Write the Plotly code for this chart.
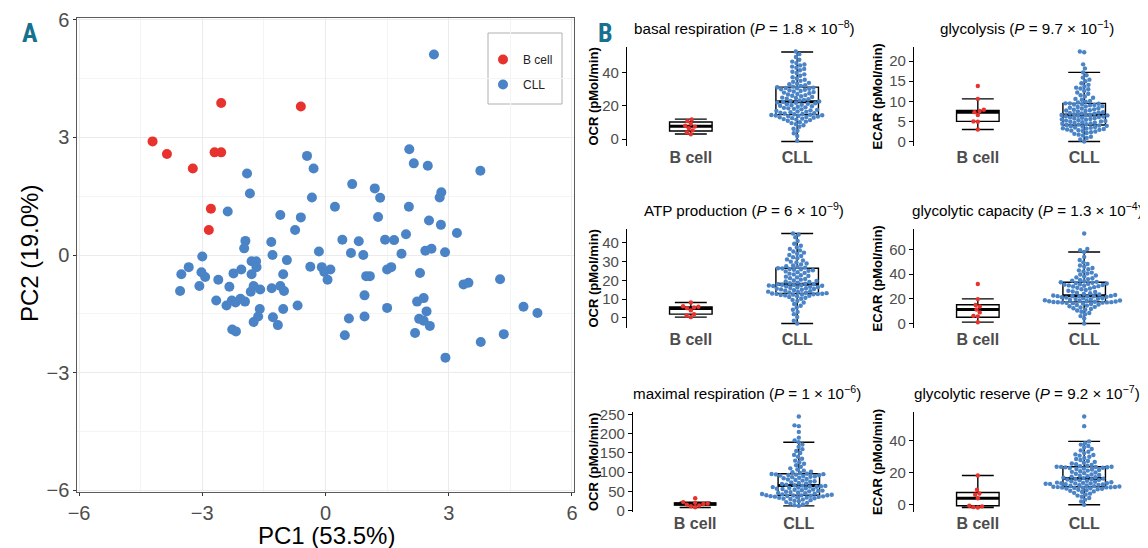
import numpy as np
import plotly.graph_objects as go

# page body has an 8px default margin: draw on a 1140x540 canvas and map target pixels
OFF = 8
W, H = 1148 - OFF, 548 - OFF

# ---------------- Panel A data (PCA) ----------------
bcell_pc1 = [-4.21, -3.86, -3.23, -2.70, -2.54, -2.54, -2.79, -2.84, -0.60]
bcell_pc2 = [2.90, 2.58, 2.21, 2.62, 2.62, 3.88, 1.18, 0.64, 3.79]

cll_pc1 = [2.64, 2.04, 2.15, 2.49, 3.77, -0.45, -0.29, -1.91, -1.84, 0.65, 1.20, 1.33, 2.82, 2.78,
           -0.33, 0.23, 2.03, -2.38, -1.10, -0.60, 1.28, 2.52, 2.81, -0.74, 3.20, 1.96, -1.95, -1.98,
           -1.32, 0.41, 0.81, 1.45, 1.67, -0.16, 0.62, 0.92, 1.85, 2.43, 2.58, 2.91, -1.29, -3.00,
           -3.33, -3.51, -3.54, -3.02, -2.93, -3.07, -2.61, -2.34, -2.24, -2.05, -1.80, -1.69, -1.68,
           -1.80, -0.94, -1.03, -0.37, -0.09, -0.03, 0.12, 0.05, 0.99, 1.08, 1.50, 1.60, 2.30, -1.75,
           -1.59, -1.82, -1.31, -1.10, -1.01, -2.66, -2.41, -2.28, -2.19, -2.07, -1.96, -1.60, -1.64,
           -1.75, -1.28, -1.16, -1.03, -0.68, -2.27, -2.18, 0.47, 0.57, 0.95, 0.95, 1.50, 2.23, 2.39,
           2.46, 2.28, 2.39, 2.54, 2.18, 2.92, 3.78, 4.34, 3.36, 3.48, 4.25, 4.82, 5.16]
cll_pc2 = [5.12, 2.70, 2.34, 2.28, 2.15, 2.53, 2.21, 2.08, 1.57, 1.81, 1.70, 1.46, 1.60, 1.47,
           1.47, 1.23, 1.23, 1.11, 1.02, 0.96, 0.97, 0.88, 0.77, 0.64, 0.56, 0.53, 0.36, 0.17,
           0.33, 0.39, 0.35, 0.39, 0.38, 0.09, 0.05, 0.00, 0.03, 0.11, 0.16, 0.07, 0.00, -0.04,
           -0.31, -0.49, -0.92, -0.44, -0.56, -0.79, -0.63, -0.81, -0.47, -0.37, -0.16, -0.16, -0.31,
           -0.49, -0.13, -0.49, -0.30, -0.31, -0.43, -0.37, -0.63, -0.54, -0.54, -0.37, -0.31, -0.46, -0.79,
           -0.88, -0.94, -0.85, -0.79, -0.92, -1.16, -1.29, -1.16, -1.21, -1.12, -1.19, -1.38, -1.57,
           -1.71, -1.59, -1.79, -1.38, -1.29, -1.90, -1.95, -2.05, -1.62, -1.57, -1.03, -1.35, -1.19, -1.10,
           -1.44, -1.63, -1.68, -1.81, -1.99, -2.62, -2.22, -2.02, -0.75, -0.71, -0.62, -1.32, -1.48]

# ---------------- Panel B data ----------------
groups = ["B cell", "CLL"]

basal_b = [2.8, 4.0, 5.2, 6.5, 7.5, 8.0, 9.2, 10.8, 11.8]
basal_cll = [-1.0, 1.8, 3.5, 5.0, 6.2, 7.4, 8.3, 9.0, 9.6, 10.1, 10.5, 11.0, 11.4, 11.7, 12.0, 12.3, 12.6,
             12.9, 13.1, 13.3, 13.6, 13.8, 14.0, 14.2, 14.3, 14.5, 14.6,
             14.9, 15.1, 15.4, 15.6, 15.9, 16.2, 16.4, 16.7, 17.0, 17.3, 17.6, 17.9, 18.2, 18.5, 18.8,
             19.1, 19.5, 19.8, 20.1, 20.4, 20.7, 21.0, 21.3, 21.6, 21.9, 22.1, 22.4,
             22.7, 23.0, 23.3, 23.6, 24.0, 24.3, 24.7, 25.0, 25.4, 25.8, 26.1, 26.5, 26.9, 27.2, 27.6,
             28.0, 28.3, 28.7, 29.0, 29.4, 29.7, 30.0, 30.3, 30.6, 30.8, 31.0, 31.2,
             31.6, 32.0, 32.5, 33.0, 33.4, 33.9, 34.5, 35.1, 35.8, 36.5, 37.3, 38.2, 39.0, 39.8, 40.6,
             41.5, 42.3, 43.0, 43.7, 44.4, 45.0, 45.8, 46.7, 47.8, 49.5, 51.2, 52.8]
basal_box_b = [3.0, 4.8, 7.7, 10.3, 12.0]
basal_box_cll = [-1.5, 14.7, 22.5, 31.3, 52.5]

glyc_b = [3.0, 4.9, 5.0, 6.6, 7.3, 7.6, 7.9, 10.6, 13.8]
glyc_cll = [0.0, 0.5, 0.9, 1.2, 1.5, 1.7, 1.9, 2.1, 2.3, 2.5, 2.6, 2.7, 2.8, 2.9, 3.0, 3.1, 3.2, 3.3,
            3.4, 3.5, 3.6, 3.7, 3.8, 3.9, 4.0, 4.1,
            4.2, 4.3, 4.4, 4.5, 4.6, 4.7, 4.8, 4.9, 5.0, 5.1, 5.2, 5.3, 5.4, 5.5, 5.6, 5.7, 5.8, 5.9,
            6.0, 6.1, 6.2, 6.3, 6.4, 6.5, 6.5, 6.6,
            6.7, 6.8, 6.9, 7.0, 7.1, 7.2, 7.3, 7.5, 7.6, 7.7, 7.8, 7.9, 8.0, 8.2, 8.3, 8.4, 8.6, 8.7,
            8.8, 9.0, 9.1, 9.2, 9.3, 9.4, 9.5, 9.5,
            9.7, 9.9, 10.1, 10.4, 10.6, 10.9, 11.2, 11.5, 11.9, 12.2, 12.6, 13.0, 13.2, 13.4, 13.7,
            14.1, 14.5, 15.0, 15.4, 15.9, 16.5, 17.2, 18.2, 19.2, 22.2, 22.4]
glyc_box_b = [3.0, 5.0, 7.3, 7.7, 10.6]
glyc_box_cll = [0.0, 4.1, 6.6, 9.5, 17.2]

atp_b = [0.4, 1.2, 2.0, 4.0, 5.2, 5.6, 5.9, 6.2, 8.2]
atp_cll = [-3.0, -1.5, 0.5, 2.0, 3.2, 4.3, 5.5, 6.5, 7.4, 8.2, 9.0, 9.6, 10.2, 10.7, 11.1, 11.5, 11.8,
           12.0, 12.2, 12.4, 12.5, 12.6, 12.7, 12.8, 12.9, 13.0,
           13.2, 13.4, 13.6, 13.8, 14.0, 14.2, 14.5, 14.7, 15.0, 15.2, 15.4, 15.6, 15.8, 16.0, 16.2,
           16.4, 16.6, 16.8, 17.0, 17.1, 17.3, 17.4, 17.6, 17.7, 17.9, 18.0,
           18.2, 18.5, 18.8, 19.1, 19.4, 19.7, 20.0, 20.4, 20.8, 21.2, 21.6, 22.0, 22.4, 22.8, 23.2,
           23.6, 24.0, 24.4, 24.8, 25.1, 25.4, 25.7, 25.9, 26.1, 26.3, 26.5,
           26.8, 27.2, 27.6, 28.0, 28.5, 29.0, 29.5, 30.0, 30.6, 31.2, 31.8, 32.4, 33.0, 33.6, 34.2,
           34.8, 35.4, 36.0, 36.8, 37.6, 38.5, 39.5, 41.0, 43.0, 44.5, 45.0]
atp_box_b = [0.4, 2.0, 5.0, 5.8, 8.2]
atp_box_cll = [-3.0, 13.0, 18.0, 26.5, 45.0]

gcap_b = [1.0, 5.8, 6.2, 9.0, 11.4, 13.8, 15.0, 19.8, 32.0]
gcap_cll = [0.0, 4.0, 6.0, 7.5, 8.5, 9.5, 10.5, 11.2, 11.8, 12.4, 13.0, 13.5, 14.0, 14.5, 15.0, 15.4,
            15.8, 16.2, 16.5, 16.7, 16.9, 17.0, 17.1, 17.2, 17.3, 17.4,
            17.6, 17.8, 18.0, 18.2, 18.4, 18.6, 18.9, 19.2, 19.5, 19.8, 20.1, 20.4, 20.7, 21.0,
            21.3, 21.6, 21.8, 22.0, 22.1, 22.2, 22.3, 22.4,
            22.7, 23.1, 23.5, 24.0, 24.5, 25.0, 25.5, 26.0, 26.6, 27.2, 27.8, 28.4, 29.0, 29.5, 30.0,
            30.3, 30.6, 30.9, 31.2, 31.5, 31.8, 32.1, 32.5, 32.8, 33.1, 33.4,
            33.8, 34.3, 34.8, 35.4, 36.0, 36.7, 37.4, 38.1, 38.9, 39.7, 40.5, 41.3, 42.2, 43.1, 44.0,
            45.0, 46.0, 47.1, 48.3, 49.6, 51.5, 54.0, 58.0, 59.5, 60.5, 73.0]
gcap_box_b = [1.1, 5.1, 11.4, 15.2, 20.0]
gcap_box_cll = [0.0, 17.5, 22.5, 33.5, 58.0]

maxr_b = [8.5, 11.0, 13.0, 15.5, 17.0, 18.5, 20.0, 22.0, 32.0]
maxr_cll = [12.0, 14.0, 16.0, 18.0, 20.0, 22.0, 24.0, 25.5, 27.0, 28.5, 30.0, 31.0, 32.0, 33.0, 34.0,
            34.8, 35.5, 36.2, 36.9, 37.5, 38.0, 38.5, 39.0, 39.4, 39.7, 40.0,
            41.0, 42.0, 43.0, 44.0, 45.0, 46.0, 47.0, 48.0, 49.0, 50.0, 51.0, 52.0, 53.0, 54.0, 55.0,
            56.0, 57.0, 58.0, 59.0, 60.0, 61.0, 62.0, 62.8, 63.5, 64.2, 65.0,
            66.0, 67.5, 69.0, 70.5, 72.0, 73.5, 75.0, 76.5, 78.0, 79.5, 81.0, 82.5, 84.0, 85.5, 87.0,
            88.0, 89.0, 90.0, 91.0, 92.0, 92.8, 93.5, 94.2, 94.8, 95.4, 96.0,
            98.0, 100.0, 101.0, 104.0, 107.0, 110.0, 114.0, 118.0, 122.0, 126.0, 130.0, 135.0, 140.0,
            145.0, 150.0, 155.0, 160.0, 166.0, 172.0, 178.0, 183.0, 190.0, 205.0, 220.0, 222.0, 245.0]
maxr_box_b = [8.0, 14.0, 17.0, 20.0, 22.0]
maxr_box_cll = [12.0, 40.0, 65.0, 96.0, 178.0]

gres_b = [-1.7, -1.5, -1.0, -0.6, 4.0, 6.2, 7.0, 9.3, 18.2]
gres_cll = [0.0, 2.0, 3.2, 4.2, 5.0, 5.7, 6.3, 6.9, 7.4, 7.9, 8.3, 8.7, 9.0, 9.3, 9.6, 9.9, 10.1, 10.3,
            10.5, 10.6, 10.7, 10.8, 10.9, 11.0, 11.1, 11.2,
            11.4, 11.6, 11.8, 12.0, 12.2, 12.4, 12.6, 12.8, 13.0, 13.1, 13.2, 13.3, 13.4, 13.5, 13.6,
            13.8, 14.0, 14.3, 14.6, 14.9, 15.2, 15.5, 15.7, 15.9, 16.1, 16.3,
            16.6, 16.9, 17.2, 17.5, 17.8, 18.1, 18.5, 18.9, 19.3, 19.7, 20.1, 20.5, 20.9, 21.3, 21.7,
            22.0, 22.3, 22.6, 22.9, 23.1, 23.3, 23.4, 23.5, 23.6, 23.7, 23.7,
            24.0, 24.4, 24.8, 25.2, 25.7, 26.2, 26.7, 27.3, 27.9, 28.5, 29.2, 29.9, 30.6, 31.0, 31.4,
            32.2, 33.0, 33.9, 34.8, 35.7, 36.6, 37.5, 38.4, 39.5, 49.0, 55.0]
gres_box_b = [-1.7, -0.6, 4.0, 7.6, 18.2]
gres_box_cll = [0.0, 11.2, 16.3, 23.7, 39.5]

panels = [
    ("basal respiration (<i>P</i> = 1.8 × 10<sup>−8</sup>)", "OCR (pMol/min)",
     basal_b, basal_cll, basal_box_b, basal_box_cll, [0, 20, 40], 0, 0),
    ("glycolysis (<i>P</i> = 9.7 × 10<sup>−1</sup>)", "ECAR (pMol/min)",
     glyc_b, glyc_cll, glyc_box_b, glyc_box_cll, [0, 5, 10, 15, 20], 1, 0),
    ("ATP production (<i>P</i> = 6 × 10<sup>−9</sup>)", "OCR (pMol/min)",
     atp_b, atp_cll, atp_box_b, atp_box_cll, [0, 10, 20, 30, 40], 0, 1),
    ("glycolytic capacity (<i>P</i> = 1.3 × 10<sup>−4</sup>)", "ECAR (pMol/min)",
     gcap_b, gcap_cll, gcap_box_b, gcap_box_cll, [0, 20, 40, 60], 1, 1),
    ("maximal respiration (<i>P</i> = 1 × 10<sup>−6</sup>)", "OCR (pMol/min)",
     maxr_b, maxr_cll, maxr_box_b, maxr_box_cll, [0, 50, 100, 150, 200, 250], 0, 2),
    ("glycolytic reserve (<i>P</i> = 9.2 × 10<sup>−7</sup>)", "ECAR (pMol/min)",
     gres_b, gres_cll, gres_box_b, gres_box_cll, [0, 20, 40], 1, 2),
]

RED = "#E8322D"
BLUE = "#4A84C6"
TEAL = "#16708F"
FONT = "Liberation Sans, Arial, sans-serif"
NARROW = "Liberation Sans Narrow, Roboto Condensed, Liberation Sans"
GRAY = "#4D4D4D"

# target pixel geometry (in the 1148x548 page)
col_left = [627, 914]
col_right = [861, 1148]
row_px = [(47, 146), (229, 328), (412, 512)]
ytitle_x = [593, 877]
title_shift = [0, -4]
A_x_px = (77.4, 573.6)
A_y_px = (18.4, 491.6)


def fx(p):
    return (p - OFF) / W


def fy(p):
    return 1 - (p - OFF) / H


def beeswarm(vals, ppu_y, ppu_x, d):
    ys = np.asarray(vals, float) * ppu_y
    order = np.argsort(ys)
    placed_x, placed_y = [], []
    offs = np.zeros(len(ys))
    for i in order:
        y = ys[i]
        cands = [0.0]
        for xj, yj in zip(placed_x, placed_y):
            dy = abs(y - yj)
            if dy < d:
                dx = np.sqrt(d * d - dy * dy)
                cands += [xj + dx, xj - dx]
        cands.sort(key=lambda c: (abs(c), c))
        for c in cands:
            ok = True
            for xj, yj in zip(placed_x, placed_y):
                if (c - xj) ** 2 + (y - yj) ** 2 < d * d - 1e-6:
                    ok = False
                    break
            if ok:
                offs[i] = c
                placed_x.append(c)
                placed_y.append(y)
                break
    return offs / ppu_x


fig = go.Figure()

fig.add_trace(go.Scatter(x=bcell_pc1, y=bcell_pc2, mode="markers", name="B cell",
                         marker=dict(color=RED, size=10), xaxis="x", yaxis="y",
                         legendgroup="a"))
fig.add_trace(go.Scatter(x=cll_pc1, y=cll_pc2, mode="markers", name="CLL",
                         marker=dict(color=BLUE, size=10), xaxis="x", yaxis="y",
                         legendgroup="b"))

axA = dict(range=[-6.04, 6.04], tickvals=[-6, -3, 0, 3, 6], ticks="outside", ticklen=3,
           tickcolor="#333", tickfont=dict(size=20, color=GRAY), showgrid=True, gridcolor="#EBEBEB",
           minor=dict(tickvals=[-4.5, -1.5, 1.5, 4.5], showgrid=True, gridcolor="#F4F4F4"),
           showline=True, mirror=True, linecolor="#5A5A5A", linewidth=1,
           zeroline=False, automargin=False, ticklabeloverflow="allow")

layout = dict(
    width=W, height=H, margin=dict(l=0, r=0, t=0, b=0, autoexpand=False),
    paper_bgcolor="white", plot_bgcolor="white",
    font=dict(family=FONT, color="black"),
    showlegend=True,
    legend=dict(x=fx(483), y=fy(45), xanchor="left", yanchor="top",
                borderwidth=0, bgcolor="rgba(0,0,0,0)",
                font=dict(size=12, color="#222"), traceorder="grouped",
                tracegroupgap=6, itemwidth=30),
    xaxis=dict(domain=[fx(A_x_px[0]), fx(A_x_px[1])], anchor="y", **axA),
    yaxis=dict(domain=[fy(A_y_px[1]), fy(A_y_px[0])], anchor="x", **axA),
    shapes=[dict(type="rect", xref="paper", yref="paper", x0=fx(488), x1=fx(562),
                 y0=fy(104), y1=fy(33), line=dict(color="#B0B0B0", width=1),
                 fillcolor="rgba(0,0,0,0)", layer="below")],
)


def ann(text, px, py, size, color="black", family=FONT, angle=0, **kw):
    d = dict(text=text, x=fx(px), y=fy(py), xref="paper", yref="paper", showarrow=False,
             xanchor="center", yanchor="middle", textangle=angle,
             font=dict(size=size, color=color, family=family))
    d.update(kw)
    return d


annotations = [
    ann("<b>A</b>", 30, 33, 26, TEAL, NARROW),
    ann("<b>B</b>", 605, 33, 26, TEAL, NARROW),
    ann("PC1 (53.5%)", 326, 535, 24),
    ann("PC2 (19.0%)", 30, 254, 24, angle=-90),
]

BOXW = 0.4
for k, (title, ytitle, pb, pc, bb, bc, tv, col, row) in enumerate(panels):
    n = k + 2
    xa, ya = f"x{n}", f"y{n}"
    # the widest tick labels ("250") push this axis a little to the right
    x0 = col_left[col] + (6 if max(tv) >= 100 else 0)
    x1 = col_right[col]
    y0, y1 = row_px[row]
    allv = pb + pc + bb + bc
    lo, hi = min(allv), max(allv)
    pad = 0.05 * (hi - lo)
    yr = [lo - pad, hi + pad]
    ppu_y = (y1 - y0) / (yr[1] - yr[0])
    ppu_x = (x1 - x0) / 2.2

    for gi, (pts, box, color) in enumerate([(pb, bb, RED), (pc, bc, BLUE)]):
        c = gi + 1
        fig.add_trace(go.Box(x=[c], lowerfence=[box[0]], q1=[box[1]], median=[box[2]],
                             q3=[box[3]], upperfence=[box[4]], width=BOXW, whiskerwidth=0.75,
                             fillcolor="white", line=dict(color="black", width=1.4),
                             xaxis=xa, yaxis=ya, showlegend=False, hoverinfo="skip"))
        fig.add_trace(go.Scatter(x=[c - BOXW / 2, c + BOXW / 2], y=[box[2], box[2]], mode="lines",
                                 line=dict(color="black", width=3), xaxis=xa, yaxis=ya,
                                 showlegend=False, hoverinfo="skip"))
        offs = beeswarm(pts, ppu_y, ppu_x, 4.4)
        fig.add_trace(go.Scatter(x=list(c + offs), y=pts, mode="markers",
                                 marker=dict(color=color, size=4.4, line=dict(width=0)),
                                 xaxis=xa, yaxis=ya, showlegend=False, hoverinfo="skip"))

    layout[f"xaxis{n}"] = dict(domain=[fx(x0), min(1.0, fx(x1))], range=[0.4, 2.6], tickvals=[1, 2],
                               ticktext=["<b>" + g + "</b>" for g in groups], ticks="",
                               showgrid=False, zeroline=False, showline=False, anchor=ya,
                               automargin=False,
                               tickfont=dict(size=16, color=GRAY, family=FONT))
    layout[f"yaxis{n}"] = dict(domain=[fy(y1), fy(y0)], range=yr, tickvals=tv, ticks="outside",
                               ticklen=4, tickcolor="black", showgrid=False, zeroline=False,
                               showline=True, linecolor="black", linewidth=1.3, anchor=xa,
                               automargin=False, tickfont=dict(size=15, color=GRAY))
    annotations.append(ann(title, (x0 + x1) / 2 + title_shift[col], y0 - 19, 15.2))
    annotations.append(ann("<b>" + ytitle + "</b>", ytitle_x[col], (y0 + y1) / 2, 13, angle=-90))

layout["annotations"] = annotations
fig.update_layout(**layout)
fig.write_html("out.html")
